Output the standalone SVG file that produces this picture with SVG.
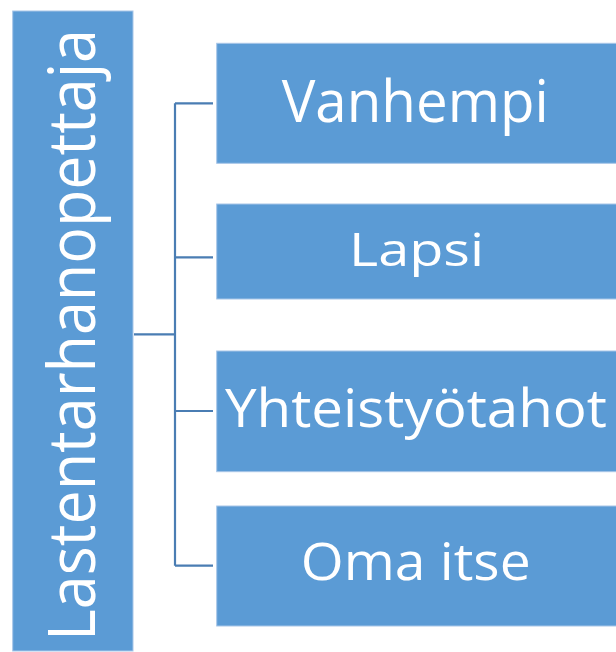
<svg xmlns="http://www.w3.org/2000/svg" width="616" height="652" viewBox="0 0 616 652">
<style>
.box{fill:#5b9bd5;stroke:#a8c6e8;stroke-width:1}
.lbl{font-family:"Open Sans","DejaVu Sans",sans-serif;fill:#ffffff}
.conn{fill:none;stroke:#4a7db3;stroke-width:2.2}
</style>
<rect width="616" height="652" fill="#ffffff"/>
<g id="connectors">
<path class="conn" d="M134,334.3 H175 M175,103.3 V565.7 M175,103.3 H213 M175,257.3 H213 M175,411 H213 M175,565.7 H213"/>
</g>
<g id="node-lastentarhanopettaja">
<rect class="box" x="12.7" y="11" width="120.3" height="640"/>
<text class="lbl" transform="translate(95,641) rotate(-90)" x="0" y="0" font-size="66" textLength="612" lengthAdjust="spacingAndGlyphs">Lastentarhanopettaja</text>
</g>
<g id="node-vanhempi">
<rect class="box" x="216.7" y="43.3" width="402" height="120"/>
<text class="lbl" x="281.7" y="121.7" font-size="58" textLength="267" lengthAdjust="spacingAndGlyphs">Vanhempi</text>
</g>
<g id="node-lapsi">
<rect class="box" x="216.7" y="204" width="402" height="95"/>
<text class="lbl" x="349" y="266" font-size="46" textLength="135" lengthAdjust="spacingAndGlyphs">Lapsi</text>
</g>
<g id="node-yhteistyotahot">
<rect class="box" x="216.7" y="351" width="402" height="120.7"/>
<text class="lbl" x="225" y="426.7" font-size="53" textLength="382" lengthAdjust="spacingAndGlyphs">Yhteistyötahot</text>
</g>
<g id="node-oma-itse">
<rect class="box" x="216.7" y="506" width="402" height="120"/>
<text class="lbl" x="300.7" y="580" font-size="51" textLength="230" lengthAdjust="spacingAndGlyphs">Oma itse</text>
</g>
</svg>
